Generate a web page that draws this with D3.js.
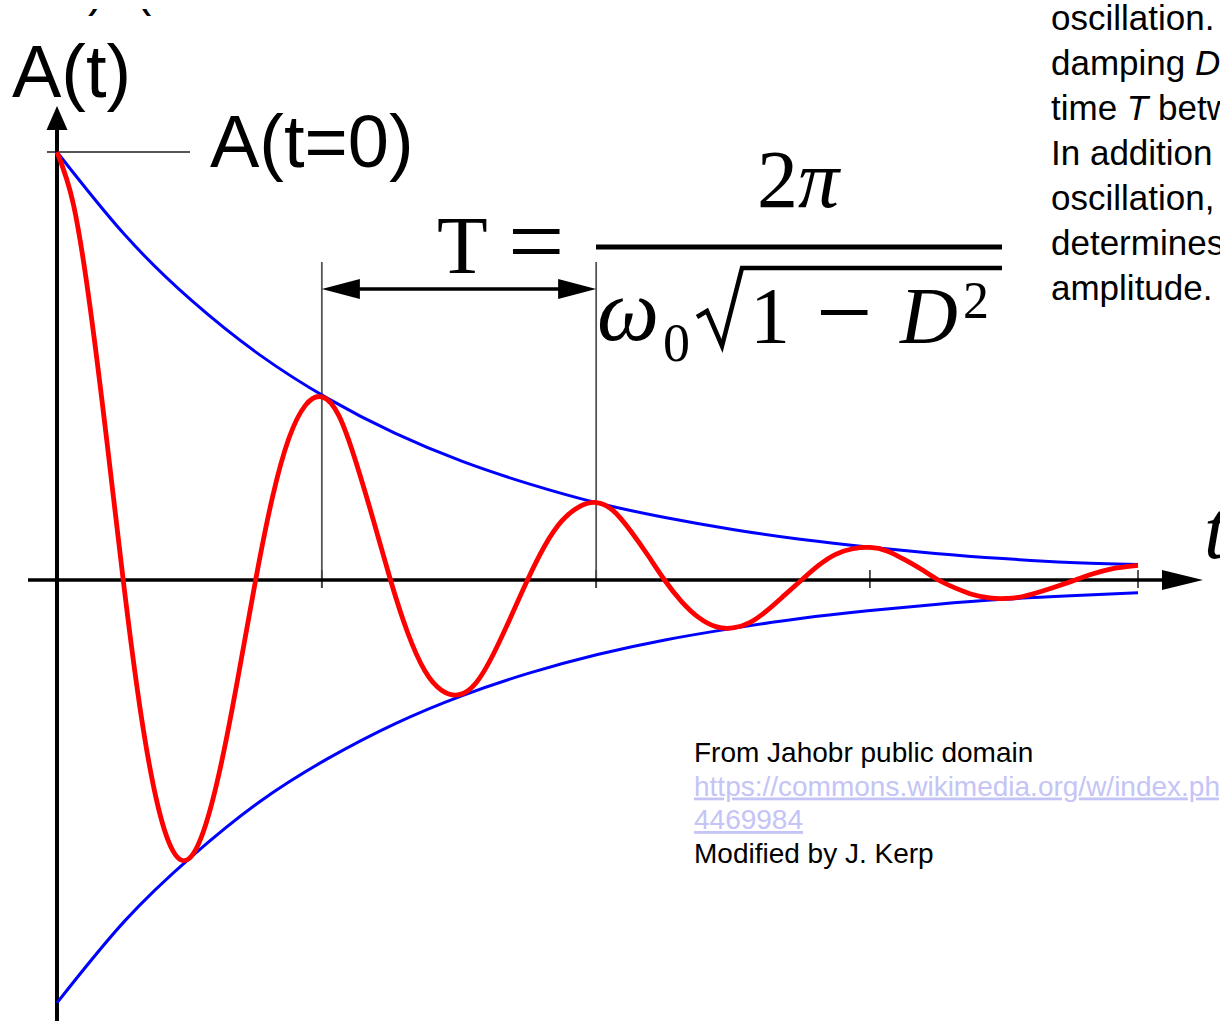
<!DOCTYPE html>
<html>
<head>
<meta charset="utf-8">
<script src="https://cdn.jsdelivr.net/npm/d3@7"></script>
<style>
  html, body { margin: 0; padding: 0; background: #fff; }
  svg { display: block; }
</style>
</head>
<body>
<svg id="chart" width="1220" height="1021"></svg>
<script>
// Damped oscillation A(t): time in units of the damped period, amplitude relative to A(t=0)
const timeSamples = [
  0, 0.061, 0.1225, 0.184, 0.245, 0.306, 0.3675, 0.429, 0.49, 0.551, 0.6125, 0.674, 0.735, 0.796, 0.8575, 0.919,
  0.98, 1.043, 1.107, 1.170, 1.234, 1.297, 1.361, 1.424, 1.488, 1.551, 1.614, 1.678, 1.741, 1.805, 1.868, 1.932,
  1.995, 2.058, 2.122, 2.185, 2.248, 2.312, 2.375, 2.438, 2.501, 2.565, 2.628, 2.691, 2.755, 2.818, 2.881, 2.945,
  3.008, 3.071, 3.135, 3.198, 3.261, 3.325, 3.388, 3.451, 3.514, 3.578, 3.641, 3.704, 3.768, 3.831, 3.894, 3.958, 4.0];
const displacement = [
  1.0, 0.877, 0.637, 0.327, 0, -0.294, -0.512, -0.633, -0.650, -0.570, -0.415, -0.213, 0, 0.190, 0.330, 0.408,
  0.428, 0.384, 0.274, 0.141, 0, -0.122, -0.212, -0.258, -0.268, -0.240, -0.174, -0.088, 0, 0.080, 0.138, 0.171,
  0.181, 0.162, 0.115, 0.059, 0, -0.051, -0.088, -0.109, -0.112, -0.099, -0.071, -0.036, 0, 0.034, 0.060, 0.073,
  0.076, 0.068, 0.048, 0.025, 0, -0.019, -0.034, -0.042, -0.043, -0.038, -0.027, -0.014, 0, 0.014, 0.025, 0.031, 0.034];

// Exponential envelope of the oscillation
const envelopeTime = [0, 0.25, 0.5, 0.75, 1.0, 1.25, 1.5, 1.75, 2.0, 2.25, 2.5, 2.75, 3.0, 3.25, 3.5, 3.75, 4.0];
const envelopeUpper = [1.0, 0.807, 0.652, 0.526, 0.425, 0.343, 0.277, 0.224, 0.180, 0.146, 0.118, 0.095, 0.077, 0.062, 0.050, 0.041, 0.036];
const envelopeLower = [-0.988, -0.797, -0.645, -0.518, -0.418, -0.336, -0.270, -0.217, -0.174, -0.140, -0.113, -0.090, -0.072, -0.057, -0.045, -0.037, -0.030];

// Two neighbouring maxima that span one period T, and the marks on the time axis
const periodMarks = [0.98, 1.995];
const axisTicks = [0.98, 1.995, 3.008, 4.0];

const sideText = [
  ["oscillation."],
  ["damping ", {i: "D"}],
  ["time ", {i: "T"}, " between"],
  ["In addition"],
  ["oscillation,"],
  ["determines"],
  ["amplitude."]
];
const creditText = [
  {t: "From Jahobr public domain", link: false},
  {t: "https://commons.wikimedia.org/w/index.php?curid=", link: true},
  {t: "4469984", link: true},
  {t: "Modified by J. Kerp", link: false}
];

const W = 1220, H = 1021;
const svg = d3.select("#chart");

const x = d3.scaleLinear().domain([0, 4]).range([57, 1138]);
const y = d3.scaleLinear().domain([-1, 1]).range([1008, 152]);
const y0 = y(0), x0 = x(0);

const sans = "'Liberation Sans', Arial, sans-serif";
const serif = "'Liberation Serif', 'Times New Roman', serif";

// clipped fragments of text running off the top
const topClip = svg.append("clipPath").attr("id", "topclip");
topClip.append("rect").attr("x", 0).attr("y", 9).attr("width", 300).attr("height", 7);
const topG = svg.append("g").attr("clip-path", "url(#topclip)")
  .style("font-family", sans).style("font-size", "46px");
topG.append("text").attr("x", 88).attr("y", 6).text(")");
topG.append("text").attr("x", 136).attr("y", 6).text("(");

// guide lines at the two maxima that define T
svg.append("g").selectAll("line").data(periodMarks).join("line")
  .attr("x1", d => x(d)).attr("x2", d => x(d))
  .attr("y1", 262).attr("y2", y0 + 8)
  .attr("stroke", "#555").attr("stroke-width", 1.8);

// axis ticks
svg.append("g").selectAll("line").data(axisTicks).join("line")
  .attr("x1", d => x(d)).attr("x2", d => x(d))
  .attr("y1", y0 - 10).attr("y2", y0 + 8)
  .attr("stroke", "#444").attr("stroke-width", 1.8);

// line to A(t=0) label
svg.append("line")
  .attr("x1", x0 - 10).attr("x2", 190)
  .attr("y1", y(1)).attr("y2", y(1))
  .attr("stroke", "#555").attr("stroke-width", 2);

// axes with arrowheads
svg.append("line").attr("x1", 28).attr("x2", 1170).attr("y1", y0).attr("y2", y0)
  .attr("stroke", "#000").attr("stroke-width", 3.5);
svg.append("path")
  .attr("d", `M1203,${y0} L1162,${y0 - 10} L1162,${y0 + 10} Z`).attr("fill", "#000");
svg.append("line").attr("x1", x0).attr("x2", x0).attr("y1", H).attr("y2", 125)
  .attr("stroke", "#000").attr("stroke-width", 4);
svg.append("path")
  .attr("d", `M${x0},106 L${x0 - 10.5},130 L${x0 + 10.5},130 Z`).attr("fill", "#000");

// envelope curves
const envLine = d3.line().x(d => x(d[0])).y(d => y(d[1])).curve(d3.curveNatural);
svg.append("path").datum(d3.zip(envelopeTime, envelopeUpper)).attr("d", envLine)
  .attr("fill", "none").attr("stroke", "#0000ff").attr("stroke-width", 3);
svg.append("path").datum(d3.zip(envelopeTime, envelopeLower)).attr("d", envLine)
  .attr("fill", "none").attr("stroke", "#0000ff").attr("stroke-width", 3);

// damped oscillation
const oscLine = d3.line().x(d => x(d[0])).y(d => y(d[1])).curve(d3.curveNatural);
svg.append("path").datum(d3.zip(timeSamples, displacement)).attr("d", oscLine)
  .attr("fill", "none").attr("stroke", "#ff0000").attr("stroke-width", 4.8)
  .attr("stroke-linejoin", "round").attr("stroke-linecap", "butt");

// period arrow between the maxima
const ay = 289, xa = x(periodMarks[0]), xb = x(periodMarks[1]);
svg.append("line").attr("x1", xa + 20).attr("x2", xb - 20).attr("y1", ay).attr("y2", ay)
  .attr("stroke", "#000").attr("stroke-width", 3.5);
svg.append("path").attr("d", `M${xa},${ay} L${xa + 38},${ay - 10} L${xa + 38},${ay + 10} Z`).attr("fill", "#000");
svg.append("path").attr("d", `M${xb},${ay} L${xb - 38},${ay - 10} L${xb - 38},${ay + 10} Z`).attr("fill", "#000");

// axis labels
svg.append("text").attr("x", 12).attr("y", 97)
  .style("font-family", sans).style("font-size", "74px").text("A(t)");
svg.append("text").attr("x", 210).attr("y", 167)
  .style("font-family", sans).style("font-size", "74px").text("A(t=0)");
svg.append("text").attr("x", 1204).attr("y", 558)
  .style("font-family", serif).style("font-style", "italic").style("font-size", "82px").text("t");

// period formula  T = 2π / (ω0 √(1 − D²))
const f = svg.append("g").style("font-family", serif).attr("fill", "#000");
f.append("text").attr("x", 437).attr("y", 273).style("font-size", "83px").text("T");
f.append("text").attr("x", 508).attr("y", 275).style("font-size", "100px").text("=");
const num = f.append("text").attr("x", 798).attr("y", 207).attr("text-anchor", "middle").style("font-size", "82px");
num.append("tspan").text("2");
num.append("tspan").style("font-style", "italic").text("π");
f.append("line").attr("x1", 596).attr("x2", 1002).attr("y1", 247).attr("y2", 247)
  .attr("stroke", "#000").attr("stroke-width", 5);
f.append("text").attr("x", 597).attr("y", 340).style("font-size", "88px").style("font-style", "italic").text("ω");
f.append("text").attr("x", 663).attr("y", 361).style("font-size", "54px").text("0");
f.append("path")
  .attr("d", "M697,317 L707,311 L722,346 L742,268 L1002,268")
  .attr("fill", "none").attr("stroke", "#000").attr("stroke-width", 4.5).attr("stroke-linejoin", "miter");
f.append("text").attr("x", 750).attr("y", 343).style("font-size", "80px").text("1");
f.append("text").attr("x", 816).attr("y", 346).style("font-size", "100px").text("\u2212");
f.append("text").attr("x", 900).attr("y", 343).style("font-size", "80px").style("font-style", "italic").text("D");
f.append("text").attr("x", 963).attr("y", 318).style("font-size", "52px").text("2");

// explanatory text at the right
const side = svg.append("g").style("font-family", sans).style("font-size", "35px");
sideText.forEach((parts, i) => {
  const t = side.append("text").attr("x", 1051).attr("y", 30 + i * 45);
  parts.forEach(p => {
    if (typeof p === "string") t.append("tspan").text(p);
    else t.append("tspan").style("font-style", "italic").text(p.i);
  });
});

// source credit
const credit = svg.append("g").style("font-family", sans).style("font-size", "28px");
creditText.forEach((c, i) => {
  credit.append("text").attr("x", 694).attr("y", 762 + i * 33.5)
    .attr("fill", c.link ? "#c4c4f6" : "#000")
    .style("text-decoration", c.link ? "underline" : null)
    .text(c.t);
});
</script>
</body>
</html>
